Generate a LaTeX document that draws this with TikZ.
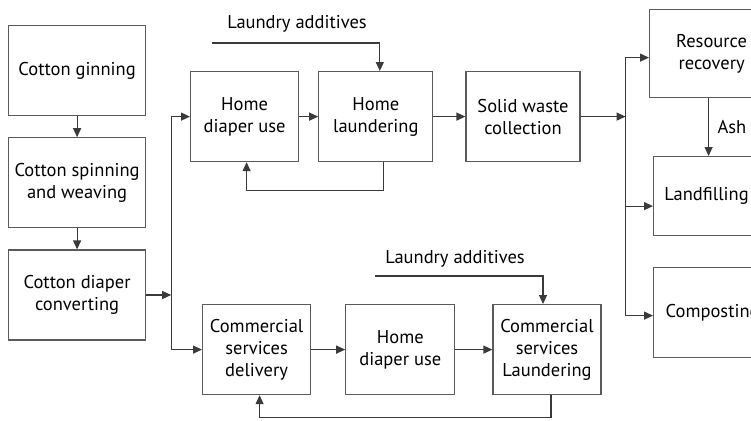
\documentclass[tikz,border=0pt]{standalone}
\usepackage{fontspec}
\setmainfont{PT Sans}
\usetikzlibrary{arrows.meta, positioning, calc}
\definecolor{linegray}{HTML}{3A3A3A}
\definecolor{edgegray}{HTML}{5A5A5A}

\begin{document}
\begin{tikzpicture}[
    x=1pt, y=-1pt,
    node distance=21pt and 19pt,
    box/.style={draw=edgegray, line width=1.2pt, minimum height=90pt, inner sep=2pt,
                text centered, align=center, font=\fontsize{18.5}{22}\selectfont},
    annot/.style={font=\fontsize{18.5}{22}\selectfont, text=black},
    arr/.style={-{Triangle[length=9pt, width=8pt]}, line width=1.2pt, draw=linegray},
  ]

  \useasboundingbox (0,0) rectangle (751,420);
  \clip (0,0) rectangle (751,420);

  % Cotton chain
  \node[box, minimum width=137pt, anchor=north west] (ginning) at (8,25) {Cotton ginning};
  \node[box, minimum width=137pt, below=of ginning] (spinning) {Cotton spinning\\and weaving};
  \node[box, minimum width=137pt, below=of spinning] (converting) {Cotton diaper\\converting};
  \coordinate[right=25pt of converting] (split);

  % Home route
  \node[box, minimum width=108pt, anchor=north west] (homeuse) at (190,71) {Home\\diaper use};
  \node[box, minimum width=114pt, right=of homeuse] (homewash) {Home\\laundering};
  \node[box, minimum width=114pt, right=32pt of homewash] (waste) {Solid waste\\collection};
  \node[annot] (addhome) at (297,24) {Laundry additives};
  \coordinate (addhomein) at (212,43);

  % Commercial route
  \node[box, minimum width=108pt, anchor=north west] (comdeliv) at (202,304) {Commercial\\services\\delivery};
  \node[box, minimum width=109pt, right=34pt of comdeliv] (comuse) {Home\\diaper use};
  \node[box, minimum width=108pt, right=37pt of comuse] (comwash) {Commercial\\services\\Laundering};
  \node[annot] (addcom) at (455,259) {Laundry additives};
  \coordinate (addcomin) at (375,276);

  % Disposal
  \coordinate[right=45pt of waste] (split2);
  \node[box, minimum width=124pt, minimum height=88pt, anchor=north west] (recovery) at (649,9) {Resource\\recovery};
  \node[box, minimum width=106pt, minimum height=79pt, anchor=north west] (landfill) at (653,156) {Landfilling};
  \node[box, minimum width=118pt, anchor=north west] (compost) at (653,267) {Composting};
  \coordinate (ashtop) at ([xshift=-3pt]recovery.south);

  % Arrows
  \draw[arr] (ginning) -- (spinning);
  \draw[arr] (spinning) -- (converting);
  \draw[arr] (converting) -- (split);
  \draw[arr] (split) |- (homeuse);
  \draw[arr] (split) |- (comdeliv);

  \draw[arr] (homeuse) -- (homewash);
  \draw[arr] (homewash) -- (waste);
  \draw[arr] (addhomein) -| ([xshift=4pt]homewash.north);
  \draw[arr] ([xshift=8pt]homewash.south) -- ++(0,28) -| ([xshift=2pt]homeuse.south);

  \draw[arr] (comdeliv) -- (comuse);
  \draw[arr] (comuse) -- (comwash);
  \draw[arr] (addcomin) -| ([xshift=-4pt]comwash.north);
  \draw[arr] ([xshift=4pt]comwash.south) -- ++(0,22) -| ([xshift=3pt]comdeliv.south);

  \draw[arr] (waste) -- (split2);
  \draw[arr] (split2) |- ([yshift=-4pt]recovery.west);
  \draw[arr] (split2) |- ([yshift=-10pt]landfill.west);
  \draw[arr] (split2) |- ([yshift=-3pt]compost.west);
  \draw[arr] (ashtop) -- (ashtop |- landfill.north) node[annot, midway, right=5pt] (ash) {Ash};

\end{tikzpicture}
\end{document}
